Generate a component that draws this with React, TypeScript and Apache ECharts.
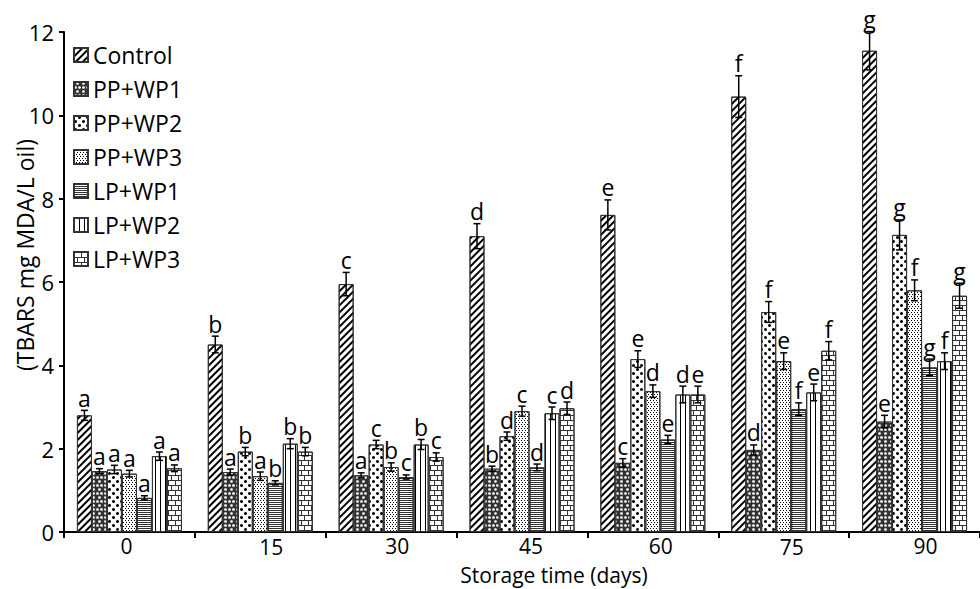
import React, { useEffect, useRef } from 'react';
import * as echarts from 'echarts';

// ---- data ----
const categories = ['0', '15', '30', '45', '60', '75', '90'];
const seriesNames = ['Control', 'PP+WP1', 'PP+WP2', 'PP+WP3', 'LP+WP1', 'LP+WP2', 'LP+WP3'];

const control = [2.8, 4.5, 5.95, 7.1, 7.61, 10.45, 11.55];
const ppwp1 = [1.46, 1.44, 1.36, 1.52, 1.66, 1.97, 2.65];
const ppwp2 = [1.5, 1.93, 2.1, 2.3, 4.15, 5.28, 7.13];
const ppwp3 = [1.4, 1.34, 1.56, 2.9, 3.38, 4.1, 5.8];
const lpwp1 = [0.82, 1.18, 1.32, 1.55, 2.22, 2.95, 3.95];
const lpwp2 = [1.82, 2.12, 2.1, 2.85, 3.3, 3.35, 4.1];
const lpwp3 = [1.53, 1.93, 1.8, 2.97, 3.3, 4.35, 5.67];

const controlErr = [0.12, 0.2, 0.28, 0.3, 0.36, 0.5, 0.46];
const ppwp1Err = [0.06, 0.07, 0.06, 0.06, 0.1, 0.12, 0.15];
const ppwp2Err = [0.1, 0.1, 0.1, 0.1, 0.2, 0.25, 0.36];
const ppwp3Err = [0.08, 0.1, 0.1, 0.12, 0.15, 0.2, 0.25];
const lpwp1Err = [0.05, 0.05, 0.05, 0.08, 0.1, 0.15, 0.2];
const lpwp2Err = [0.1, 0.12, 0.12, 0.15, 0.2, 0.2, 0.2];
const lpwp3Err = [0.08, 0.1, 0.1, 0.15, 0.2, 0.22, 0.3];

const controlSig = ['a', 'b', 'c', 'd', 'e', 'f', 'g'];
const ppwp1Sig = ['a', 'a', 'a', 'b', 'c', 'd', 'e'];
const ppwp2Sig = ['a', 'b', 'c', 'd', 'e', 'f', 'g'];
const ppwp3Sig = ['a', 'a', 'b', 'c', 'd', 'e', 'f'];
const lpwp1Sig = ['a', 'b', 'c', 'd', 'e', 'f', 'g'];
const lpwp2Sig = ['a', 'b', 'b', 'c', 'd', 'e', 'f'];
const lpwp3Sig = ['a', 'b', 'c', 'd', 'e', 'f', 'g'];

const xTitle = 'Storage time (days)';
const yTitle = '(TBARS mg MDA/L oil)';

// ---- styling ----
const FONT = '"Open Sans", "Noto Sans", sans-serif';
const BAR_W = 15;

const barFill = ['#fff', '#333', '#fff', '#fff', '#fff', '#fff', '#fff'];

const decals: any[] = [
  { symbol: 'rect', symbolSize: 1, dashArrayX: [1, 0], dashArrayY: [2, 3], rotation: -Math.PI / 4, color: '#000', backgroundColor: '#fff' },
  { symbol: 'circle', symbolSize: 0.9, dashArrayX: [[3, 1], [0, 2, 3, 1]], dashArrayY: [3, 1], color: '#fff' },
  { symbol: 'circle', symbolSize: 1, dashArrayX: [[3, 5], [0, 4, 3, 1]], dashArrayY: [3, 1], color: '#000', backgroundColor: '#fff' },
  { symbol: 'rect', symbolSize: 1, dashArrayX: [[1, 2], [0, 2, 1, 0]], dashArrayY: [1, 1], color: '#000', backgroundColor: '#fff' },
  { symbol: 'rect', symbolSize: 1, dashArrayX: [1, 0], dashArrayY: [1, 1], color: '#333', backgroundColor: '#fff' },
  { symbol: 'rect', symbolSize: 1, dashArrayX: [[1, 4]], dashArrayY: [1, 0], color: '#000', backgroundColor: '#fff' },
  { symbol: 'rect', symbolSize: 1, dashArrayX: [[1, 0], [1, 6], [1, 0], [0, 3, 1, 3]], dashArrayY: [1, 0, 4, 0, 1, 0, 4, 0], color: '#333', backgroundColor: '#fff' },
];

const labelShift = [
  { dx: -3, dy: 0 }, { dx: 11, dy: 2 }, { dx: 6, dy: 0 }, { dx: 9, dy: 0 },
  { dx: 8, dy: 0 }, { dx: 8, dy: 2 }, { dx: 11, dy: 0 },
];

export default function App() {
  const ref = useRef<HTMLDivElement>(null);
  useEffect(() => {
    document.body.style.margin = '0';
    const chart = echarts.init(ref.current as HTMLDivElement, null, { renderer: 'svg' });
    const values = [control, ppwp1, ppwp2, ppwp3, lpwp1, lpwp2, lpwp3];
    const errs = [controlErr, ppwp1Err, ppwp2Err, ppwp3Err, lpwp1Err, lpwp2Err, lpwp3Err];
    const sigs = [controlSig, ppwp1Sig, ppwp2Sig, ppwp3Sig, lpwp1Sig, lpwp2Sig, lpwp3Sig];

    const errData: number[][] = [];
    values.forEach((arr, s) => arr.forEach((v, c) => errData.push([c, s, v, errs[s][c]])));

    const rich: any = {};
    labelShift.forEach((sh, i) => {
      rich['l' + i] = {
        fontSize: 21, fontFamily: FONT, color: '#000', lineHeight: 21,
        padding: [Math.max(sh.dy, 0), sh.dx < 0 ? -2 * sh.dx : 0, 0, sh.dx > 0 ? 2 * sh.dx : 0],
      };
    });

    const option: any = {
      animation: false,
      backgroundColor: '#fff',
      grid: { left: 64, top: 32, width: 931, height: 500 },
      legend: {
        data: seriesNames,
        orient: 'vertical',
        left: 68,
        top: 38,
        itemWidth: 14,
        itemHeight: 14,
        itemGap: 10,
        icon: 'rect',
        textStyle: { fontSize: 23, fontFamily: FONT, color: '#000', lineHeight: 24 },
      },
      xAxis: {
        type: 'category',
        data: categories,
        axisLine: { lineStyle: { color: '#000', width: 2 } },
        axisTick: { show: true, length: 6, lineStyle: { color: '#000', width: 2 } },
        axisLabel: {
          interval: 0,
          margin: 3,
          formatter: (v: string, i: number) => `{l${i}|${v}}`,
          rich,
        },
      },
      yAxis: {
        type: 'value',
        min: 0,
        max: 12,
        interval: 2,
        axisLine: { show: true, lineStyle: { color: '#000', width: 2 } },
        axisTick: { show: true, length: 5, lineStyle: { color: '#000', width: 2 } },
        splitLine: { show: false },
        axisLabel: { color: '#000', fontSize: 22, fontFamily: FONT, margin: 10 },
      },
      series: [
        ...seriesNames.map((name, s) => ({
          name,
          type: 'bar',
          data: values[s],
          barWidth: BAR_W,
          barGap: '0%',
          itemStyle: { color: barFill[s], borderColor: '#333', borderWidth: 1, decal: decals[s] },
        })),
        {
          type: 'custom',
          z: 10,
          encode: { x: 0, y: 2 },
          data: errData,
          renderItem: (params: any, api: any) => {
            const c = api.value(0);
            const s = api.value(1);
            const v = api.value(2);
            const e = api.value(3);
            const base = api.coord([c, v]);
            const x = base[0] + (s - 3) * BAR_W;
            const yTop = api.coord([c, v + e])[1];
            const yBot = api.coord([c, v - e])[1];
            const st = { stroke: '#000', lineWidth: 1.5 };
            return {
              type: 'group',
              children: [
                { type: 'line', shape: { x1: x, y1: yTop, x2: x, y2: yBot }, style: st },
                { type: 'line', shape: { x1: x - 3.5, y1: yTop, x2: x + 3.5, y2: yTop }, style: st },
                { type: 'line', shape: { x1: x - 3.5, y1: yBot, x2: x + 3.5, y2: yBot }, style: st },
                {
                  type: 'text', x, y: yTop - 1,
                  style: { text: sigs[s][c], textAlign: 'center', textVerticalAlign: 'bottom', font: `23px ${FONT}`, fill: '#000' },
                },
              ],
            };
          },
        },
      ],
      graphic: [
        {
          type: 'text', x: 554, y: 575,
          style: { text: xTitle, textAlign: 'center', textVerticalAlign: 'middle', font: `21px ${FONT}`, fill: '#000' },
        },
        {
          type: 'text', x: 25, y: 255, rotation: Math.PI / 2,
          style: { text: yTitle, textAlign: 'center', textVerticalAlign: 'middle', font: `23px ${FONT}`, fill: '#000' },
        },
      ],
    };
    chart.setOption(option);
    return () => chart.dispose();
  }, []);
  return <div ref={ref} style={{ width: 980, height: 589 }} />;
}
